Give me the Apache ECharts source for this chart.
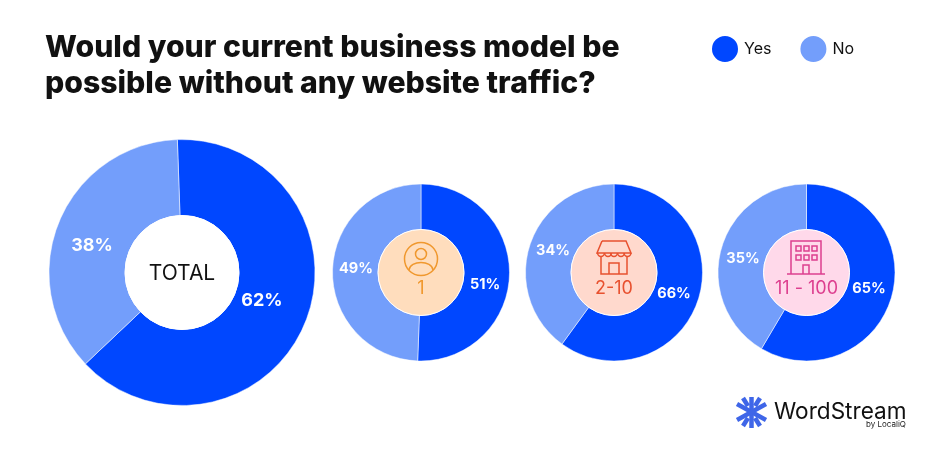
<!DOCTYPE html>
<html><head><meta charset="utf-8">
<style>html,body{margin:0;padding:0;background:#fff}#c{width:937px;height:450px}</style>
<script src="https://cdn.jsdelivr.net/npm/echarts@6/dist/echarts.min.js"></script>
</head><body><div id="c"></div>
<script>
const FONT = 'Inter, "Noto Sans", sans-serif';
const titleLines = ['Would your current business model be', 'possible without any website traffic?'];
const legendNames = ['Yes', 'No'];
const segments = ['TOTAL', '1', '2-10', '11 - 100'];
// Printed percentages
const yesLabels = [62, 51, 66, 65];
const noLabels = [38, 49, 34, 35];
// Shares as the wedges are actually drawn in the picture (the source art does not follow its printed numbers exactly)
const yesDrawn = [63.5, 50.6, 60, 58.5];
const noDrawn = [36.5, 49.4, 40, 41.5];
const startAngles = [92, 90, 90, 90];
const centerX = [182, 421, 614, 806.5];
const centerY = 272.5;
const outerR = [133, 88.5, 88.5, 88.5];
const innerR = [57, 43, 43, 43];
const discFill = ['#ffffff', '#FFDDBD', '#FFD9CD', '#FFD9EA'];
const inkColor = ['#111111', '#F0982E', '#E8512F', '#DD3F8F'];
const yesLabelPos = [[262, 301], [485, 285], [674, 294], [869, 289]];
const noLabelPos = [[92, 246], [356, 269], [553, 251], [743, 259]];
const BLUE = '#0047FF', LIGHT = '#739EFB';

const series = segments.map((s, i) => ({
  type: 'pie', name: s, silent: true, animation: false,
  center: [centerX[i], centerY], radius: [innerR[i], outerR[i]],
  startAngle: startAngles[i], clockwise: true,
  itemStyle: { borderColor: '#ffffff', borderWidth: 0.5 },
  labelLine: { show: false },
  label: { show: true, position: 'inside', color: '#fff', fontFamily: FONT, fontWeight: 700, fontSize: i === 0 ? 18 : 14.5,
    formatter: p => (p.dataIndex === 0 ? yesLabels[i] : noLabels[i]) + '%' },
  labelLayout: p => {
    const pos = p.dataIndex === 0 ? yesLabelPos[i] : noLabelPos[i];
    return { x: pos[0], y: pos[1], align: 'center', verticalAlign: 'middle' };
  },
  data: [
    { name: legendNames[0], value: yesDrawn[i], itemStyle: { color: BLUE } },
    { name: legendNames[1], value: noDrawn[i], itemStyle: { color: LIGHT } }
  ]
}));

const graphics = [];
titleLines.forEach((t, i) => graphics.push({ type: 'text', x: 45, y: 33 + i * 36,
  style: { text: t, font: '800 30.2px ' + FONT, fill: '#111' } }));
segments.forEach((s, i) => {
  graphics.push({ type: 'circle', z: 5, shape: { cx: centerX[i], cy: centerY, r: innerR[i] },
    style: { fill: discFill[i], stroke: '#fff', lineWidth: 1 } });
  graphics.push({ type: 'text', z: 7, x: centerX[i], y: i === 0 ? centerY + 1 : centerY + 16,
    style: { text: s, fill: inkColor[i], font: (i === 0 ? '400 21px ' : '400 18px ') + FONT, align: 'center', verticalAlign: 'middle' } });
});
function ink(i, type, shape) {
  graphics.push({ type, z: 7, shape, style: { fill: 'none', stroke: inkColor[i], lineWidth: 1.5 } });
}
const poly = (i, points) => ink(i, 'polyline', { points });
// person icon
ink(1, 'circle', { cx: 421, cy: 259, r: 16.5 });
ink(1, 'circle', { cx: 421, cy: 254, r: 5.5 });
ink(1, 'bezierCurve', { x1: 409, y1: 270, cpx1: 410, cpy1: 260, cpx2: 432, cpy2: 260, x2: 433, y2: 270 });
// shop icon
poly(2, [[602, 241], [626, 241], [631, 253], [597, 253], [602, 241]]);
[[601, 253], [608, 253], [614, 253], [621, 253], [627.5, 253]].forEach(p =>
  ink(2, 'arc', { cx: p[0], cy: p[1], r: 3.4, startAngle: 0, endAngle: Math.PI, clockwise: true }));
poly(2, [[601, 257], [601, 274], [627, 274], [627, 257]]);
poly(2, [[609, 274], [609, 263], [619, 263], [619, 274]]);
// building icon
poly(3, [[791, 274], [791, 241], [821, 241], [821, 274]]);
poly(3, [[787, 274], [825, 274]]);
poly(3, [[803, 274], [803, 265], [809, 265], [809, 274]]);
[796, 804, 812].forEach(x => [246, 255].forEach(y => ink(3, 'rect', { x, y, width: 5, height: 5 })));
// WordStream logo
[[751.5, 397, 751.5, 428], [737, 404, 766, 420], [737, 420, 766, 404], [743, 398, 748, 406], [760, 398, 755, 406], [743, 426, 748, 418], [760, 426, 755, 418]].forEach(l =>
  graphics.push({ type: 'line', z: 7, shape: { x1: l[0], y1: l[1], x2: l[2], y2: l[3] }, style: { stroke: '#3F66E8', lineWidth: 4.5 } }));
graphics.push({ type: 'text', x: 774, y: 401, style: { text: 'WordStream', font: '400 22.6px ' + FONT, fill: '#111' } });
graphics.push({ type: 'text', x: 866, y: 421, style: { text: 'by LocaliQ', font: '400 8px ' + FONT, fill: '#222' } });

const chart = echarts.init(document.getElementById('c'), null, { renderer: 'canvas' });
chart.setOption({
  backgroundColor: '#fff', animation: false,
  legend: { left: 705, top: 29, icon: 'circle', itemWidth: 28, itemHeight: 28, itemGap: 27, selectedMode: false,
    data: legendNames, textStyle: { color: '#111', fontFamily: FONT, fontSize: 16 } },
  series, graphic: graphics
});
</script></body></html>
